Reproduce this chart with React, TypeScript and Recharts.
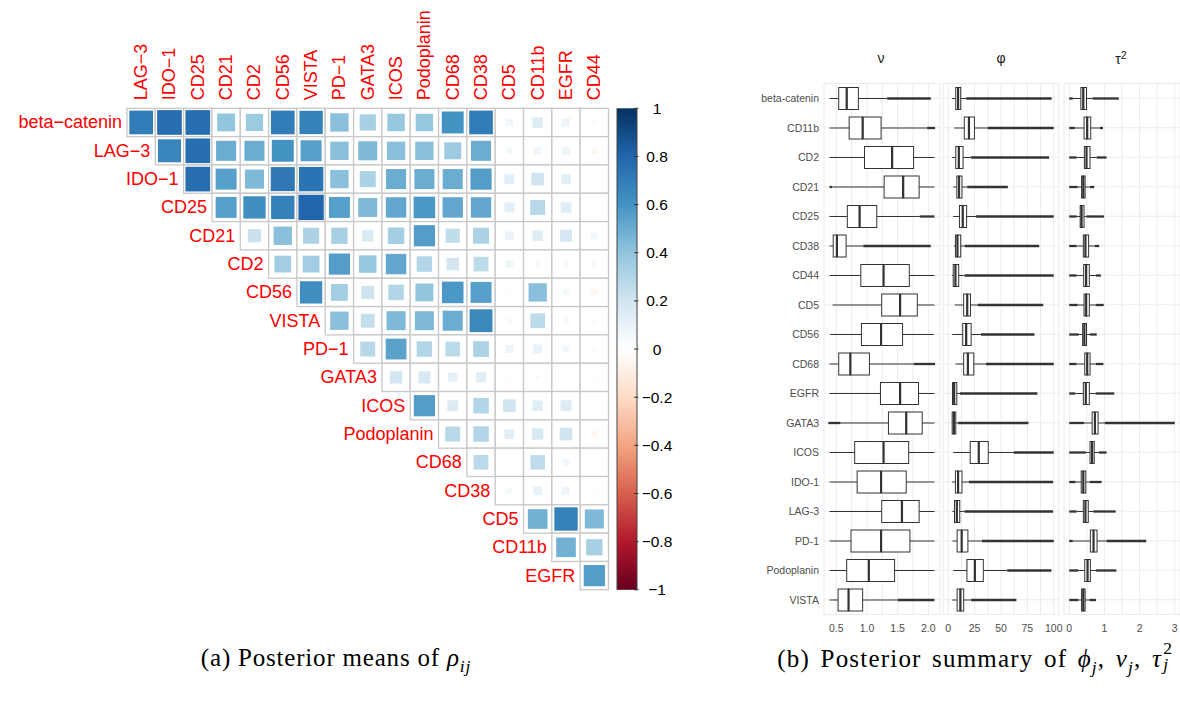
import React from 'react';
import { ScatterChart, Scatter, XAxis, YAxis, BarChart, Bar, ComposedChart, CartesianGrid } from 'recharts';

// ---------------- Panel (a): correlation matrix ----------------
const rowLabels = ['beta−catenin', 'LAG−3', 'IDO−1', 'CD25', 'CD21', 'CD2', 'CD56', 'VISTA', 'PD−1', 'GATA3', 'ICOS', 'Podoplanin', 'CD68', 'CD38', 'CD5', 'CD11b', 'EGFR'];
const colLabels = ['LAG−3', 'IDO−1', 'CD25', 'CD21', 'CD2', 'CD56', 'VISTA', 'PD−1', 'GATA3', 'ICOS', 'Podoplanin', 'CD68', 'CD38', 'CD5', 'CD11b', 'EGFR', 'CD44'];
// row i holds correlations with columns i..16
const corrRows: number[][] = [
  [0.70, 0.76, 0.76, 0.40, 0.37, 0.70, 0.68, 0.42, 0.33, 0.38, 0.38, 0.60, 0.70, 0.07, 0.14, 0.08, -0.03],
  [0.66, 0.76, 0.50, 0.50, 0.60, 0.55, 0.42, 0.45, 0.42, 0.42, 0.36, 0.50, 0.05, 0.07, 0.08, -0.05],
  [0.76, 0.55, 0.45, 0.72, 0.74, 0.42, 0.32, 0.50, 0.50, 0.50, 0.56, 0.12, 0.20, 0.12, 0.01],
  [0.55, 0.62, 0.68, 0.80, 0.55, 0.45, 0.52, 0.58, 0.52, 0.52, 0.12, 0.28, 0.14, 0.02],
  [0.22, 0.42, 0.32, 0.33, 0.16, 0.34, 0.56, 0.25, 0.32, 0.09, 0.14, 0.18, 0.06],
  [0.35, 0.35, 0.56, 0.38, 0.52, 0.30, 0.19, 0.27, 0.07, 0.05, 0.05, 0.04],
  [0.62, 0.35, 0.21, 0.30, 0.40, 0.58, 0.55, -0.02, 0.42, 0.05, -0.05],
  [0.42, 0.24, 0.45, 0.45, 0.50, 0.65, 0.03, 0.27, 0.05, -0.03],
  [0.28, 0.54, 0.30, 0.27, 0.31, 0.08, 0.10, 0.06, 0.03],
  [0.19, 0.18, 0.11, 0.13, -0.02, -0.04, 0.01, 0.02],
  [0.56, 0.15, 0.30, 0.20, 0.14, 0.15, 0.01],
  [0.28, 0.30, 0.12, 0.16, 0.20, -0.05],
  [0.27, -0.01, 0.26, 0.06, 0.01],
  [0.05, 0.10, 0.08, 0.02],
  [0.48, 0.68, 0.45],
  [0.48, 0.33],
  [0.56],
];
const colorbarTicks = [-1, -0.8, -0.6, -0.4, -0.2, 0, 0.2, 0.4, 0.6, 0.8, 1];
const RDBU = ['#67001F', '#B2182B', '#D6604D', '#F4A582', '#FDDBC7', '#FFFFFF', '#D1E5F0', '#92C5DE', '#4393C3', '#2166AC', '#053061'];

// ---------------- Panel (b): posterior boxplots ----------------
const boxCategories = ['beta-catenin', 'CD11b', 'CD2', 'CD21', 'CD25', 'CD38', 'CD44', 'CD5', 'CD56', 'CD68', 'EGFR', 'GATA3', 'ICOS', 'IDO-1', 'LAG-3', 'PD-1', 'Podoplanin', 'VISTA'];
// each row: [lowest outlier, lower whisker, Q1, median, Q3, upper whisker, highest outlier]
const nuStats: number[][] = [
  [0.39, 0.39, 0.54, 0.67, 0.86, 1.33, 2.04],
  [0.39, 0.39, 0.71, 0.93, 1.23, 1.98, 2.11],
  [0.39, 0.39, 0.96, 1.41, 1.76, 2.10, 2.10],
  [0.39, 0.43, 1.28, 1.59, 1.85, 2.10, 2.10],
  [0.39, 0.39, 0.68, 0.88, 1.16, 1.86, 2.10],
  [0.39, 0.39, 0.45, 0.51, 0.66, 0.94, 2.04],
  [0.39, 0.39, 0.90, 1.27, 1.69, 2.10, 2.10],
  [0.44, 0.44, 1.24, 1.54, 1.82, 2.10, 2.10],
  [0.40, 0.40, 0.91, 1.23, 1.58, 2.09, 2.09],
  [0.39, 0.39, 0.54, 0.73, 1.04, 1.76, 2.11],
  [0.39, 0.39, 1.22, 1.54, 1.84, 2.10, 2.10],
  [0.37, 0.57, 1.35, 1.64, 1.90, 2.10, 2.10],
  [0.39, 0.39, 0.80, 1.27, 1.68, 2.10, 2.10],
  [0.39, 0.39, 0.84, 1.23, 1.64, 2.10, 2.10],
  [0.39, 0.39, 1.24, 1.57, 1.85, 2.10, 2.10],
  [0.39, 0.39, 0.74, 1.23, 1.70, 2.10, 2.10],
  [0.39, 0.39, 0.67, 1.03, 1.45, 2.10, 2.10],
  [0.39, 0.39, 0.53, 0.70, 0.93, 1.50, 2.10],
];
const phiStats: number[][] = [
  [3.7, 3.7, 7.1, 9.3, 11.8, 17.0, 98.0],
  [5.6, 5.6, 15.2, 19.6, 24.8, 37.3, 100],
  [3.7, 3.7, 7.1, 10.0, 14.0, 21.7, 95.6],
  [4.7, 4.7, 8.1, 10.2, 13.0, 18.0, 56.5],
  [4.7, 4.7, 10.6, 13.7, 17.4, 26.4, 100],
  [5.5, 5.5, 6.8, 8.7, 11.8, 15.5, 86.3],
  [3.7, 3.7, 4.7, 6.8, 9.9, 15.5, 100],
  [6.2, 6.2, 14.6, 18.0, 21.1, 28.0, 90.0],
  [3.7, 3.7, 13.7, 17.0, 21.7, 31.0, 81.7],
  [6.8, 6.8, 14.6, 18.6, 24.2, 35.7, 100],
  [3.5, 3.5, 4.0, 5.6, 8.1, 10.9, 84.5],
  [3.4, 3.4, 3.7, 5.3, 7.1, 9.3, 76.0],
  [4.7, 4.7, 20.8, 28.9, 37.9, 62.0, 100],
  [3.7, 3.7, 6.8, 9.3, 13.0, 19.6, 99.4],
  [4.0, 4.0, 5.9, 8.1, 10.9, 15.5, 99.4],
  [4.0, 4.0, 8.4, 12.7, 18.6, 32.0, 100],
  [4.7, 4.7, 17.7, 25.2, 33.2, 55.9, 97.8],
  [3.7, 3.7, 8.4, 11.5, 14.6, 21.7, 64.6],
];
const tau2Stats: number[][] = [
  [0, 0.10, 0.33, 0.40, 0.49, 0.66, 1.41],
  [0, 0.16, 0.42, 0.51, 0.61, 0.87, 0.96],
  [0, 0.21, 0.43, 0.49, 0.59, 0.78, 1.06],
  [0, 0.24, 0.35, 0.40, 0.45, 0.59, 0.71],
  [0, 0.21, 0.31, 0.35, 0.42, 0.49, 0.99],
  [0, 0.21, 0.40, 0.46, 0.55, 0.73, 0.85],
  [0, 0.21, 0.41, 0.48, 0.57, 0.76, 0.90],
  [0, 0.24, 0.42, 0.48, 0.57, 0.75, 0.98],
  [0, 0.27, 0.38, 0.43, 0.49, 0.59, 0.78],
  [0, 0.21, 0.44, 0.51, 0.59, 0.76, 0.97],
  [0, 0.17, 0.40, 0.47, 0.57, 0.75, 1.28],
  [0, 0.42, 0.65, 0.73, 0.82, 1.01, 3.00],
  [0, 0.47, 0.59, 0.65, 0.71, 0.84, 1.06],
  [0, 0.18, 0.34, 0.40, 0.47, 0.59, 0.92],
  [0, 0.21, 0.40, 0.46, 0.54, 0.68, 1.32],
  [0, 0.10, 0.60, 0.69, 0.79, 1.06, 2.19],
  [0, 0.26, 0.44, 0.52, 0.60, 0.76, 1.34],
  [0, 0.26, 0.35, 0.40, 0.45, 0.57, 0.76],
];
const nuTicks = [0.5, 0.75, 1.0, 1.25, 1.5, 1.75, 2.0];
const nuMajor = [0.5, 1.0, 1.5, 2.0];
const phiTicks = [0, 12.5, 25, 37.5, 50, 62.5, 75, 87.5, 100];
const phiMajor = [0, 25, 50, 75, 100];
const tau2Ticks = [0, 0.5, 1, 1.5, 2, 2.5, 3];
const tau2Major = [0, 1, 2, 3];

// ---------------- helpers ----------------
const SANS = '"Liberation Sans", Arial, Helvetica, sans-serif';
const SERIF = '"Liberation Serif", "Times New Roman", serif';

function hexToRgb(h: string) {
  return [parseInt(h.slice(1, 3), 16), parseInt(h.slice(3, 5), 16), parseInt(h.slice(5, 7), 16)];
}
function corrColor(r: number) {
  const t = ((r + 1) / 2) * 10;
  let i = Math.floor(t);
  if (i > 9) i = 9;
  if (i < 0) i = 0;
  const f = t - i;
  const a = hexToRgb(RDBU[i]);
  const b = hexToRgb(RDBU[i + 1]);
  const c = a.map((v, k) => Math.round(v + (b[k] - v) * f));
  return `rgb(${c[0]},${c[1]},${c[2]})`;
}
const minusFmt = (v: number) => {
  const s = String(Math.round(v * 10) / 10);
  return s.replace('-', '−');
};

// layout of the correlation grid
const CORR_W = 640;
const CORR_H = 707;
const GRID_LEFT = 127;
const GRID_TOP = 108.3;
const GRID_SPAN = 481.5;
const CELL = GRID_SPAN / 17;

const cellData: { x: number; y: number; r: number }[] = [];
corrRows.forEach((row, i) => row.forEach((r, k) => cellData.push({ x: i + k, y: i, r })));
const rowLabelData = rowLabels.map((label, i) => ({ x: i, y: i, label }));
const colLabelData = colLabels.map((label, j) => ({ x: j, y: -0.5, label }));

const CellShape = (p: any) => {
  const { cx, cy, payload } = p;
  const r = payload.r;
  const s = Math.min(CELL - 2.5, CELL * Math.sqrt(Math.abs(r)));
  return (
    <g>
      <rect x={cx - CELL / 2} y={cy - CELL / 2} width={CELL} height={CELL} fill="#ffffff" stroke="#c8c8c8" strokeWidth={1.3} />
      <rect x={cx - s / 2} y={cy - s / 2} width={s} height={s} fill={corrColor(r)} />
    </g>
  );
};
const RowLabelShape = (p: any) => (
  <text x={p.cx - CELL / 2 - 5} y={p.cy} textAnchor="end" dominantBaseline="central" fill="#FF0000" fontSize={18} fontFamily={SANS}>
    {p.payload.label}
  </text>
);
const ColLabelShape = (p: any) => (
  <text
    x={p.cx}
    y={p.cy - 8}
    transform={`rotate(-90 ${p.cx} ${p.cy - 8})`}
    textAnchor="start"
    dominantBaseline="central"
    fill="#FF0000"
    fontSize={18}
    fontFamily={SANS}
  >
    {p.payload.label}
  </text>
);

const CorrPanel = () => (
  <div style={{ position: 'absolute', left: 0, top: 0 }}>
    <ScatterChart
      width={CORR_W}
      height={CORR_H}
      margin={{ top: GRID_TOP, left: GRID_LEFT, right: CORR_W - GRID_LEFT - GRID_SPAN, bottom: CORR_H - GRID_TOP - GRID_SPAN }}
    >
      <XAxis type="number" dataKey="x" domain={[-0.5, 16.5]} hide height={0} />
      <YAxis type="number" dataKey="y" domain={[-0.5, 16.5]} reversed hide width={0} />
      <Scatter data={cellData} shape={CellShape} isAnimationActive={false} />
      <Scatter data={rowLabelData} shape={RowLabelShape} isAnimationActive={false} />
      <Scatter data={colLabelData} shape={ColLabelShape} isAnimationActive={false} />
    </ScatterChart>
  </div>
);

// colour legend
const CB_LEFT = 580;
const CB_W = 120;
const colorbarData = [{ name: 'legend', range: [-1, 1] }];
const ColorbarShape = (p: any) => {
  const { x, y, width, height } = p;
  return (
    <g>
      <defs>
        <linearGradient id="rdbuGrad" x1="0" y1="1" x2="0" y2="0">
          {RDBU.map((c, k) => (
            <stop key={k} offset={`${k * 10}%`} stopColor={c} />
          ))}
        </linearGradient>
      </defs>
      <rect x={x} y={y} width={width} height={height} fill="url(#rdbuGrad)" />
      <line x1={x} x2={x} y1={y} y2={y + height} stroke="#444" strokeWidth={1} />
      <line x1={x + width} x2={x + width} y1={y} y2={y + height} stroke="#444" strokeWidth={1} />
    </g>
  );
};
const ColorbarTick = (p: any) => {
  const { x, y, payload } = p;
  return (
    <g>
      <line x1={x - 3} x2={x + 1.5} y1={y} y2={y} stroke="#333" strokeWidth={1} />
      <text x={x + 20} y={y} textAnchor="middle" dominantBaseline="central" fontSize={15.5} fontFamily={SANS} fill="#000">
        {minusFmt(payload.value)}
      </text>
    </g>
  );
};
const ColorbarPanel = () => (
  <div style={{ position: 'absolute', left: CB_LEFT, top: 0 }}>
    <BarChart
      width={CB_W}
      height={CORR_H}
      data={colorbarData}
      barCategoryGap={0}
      margin={{ top: GRID_TOP, bottom: CORR_H - GRID_TOP - GRID_SPAN, left: 617 - CB_LEFT, right: 0 }}
    >
      <XAxis type="category" dataKey="name" hide height={0} />
      <YAxis
        type="number"
        orientation="right"
        domain={[-1, 1]}
        ticks={colorbarTicks}
        width={CB_W - (617 - CB_LEFT) - 20}
        tickSize={0}
        tickMargin={0}
        axisLine={false}
        tickLine={false}
        tick={ColorbarTick}
        interval={0}
      />
      <Bar dataKey="range" shape={ColorbarShape} isAnimationActive={false} />
    </BarChart>
  </div>
);

// ---------------- boxplot facets ----------------
const INK = '#333333';
const EmptyShape = () => <g />;
const OutlierShape = (p: any) => {
  const { x, y, width, height } = p;
  if (!(width > 0.3)) return <g />;
  const cy = y + height / 2;
  return <line x1={x} x2={x + width} y1={cy} y2={cy} stroke={INK} strokeWidth={2.3} />;
};
const WhiskerShape = (p: any) => {
  const { x, y, width, height } = p;
  if (!(width > 0.1)) return <g />;
  const cy = y + height / 2;
  return <line x1={x} x2={x + width} y1={cy} y2={cy} stroke={INK} strokeWidth={1} />;
};
const BoxLowShape = (p: any) => {
  const { x, y, width, height } = p;
  return <rect x={x} y={y} width={Math.max(width, 0)} height={height} fill="#ffffff" stroke={INK} strokeWidth={1} />;
};
const BoxHighShape = (p: any) => {
  const { x, y, width, height } = p;
  return (
    <g>
      <rect x={x} y={y} width={Math.max(width, 0)} height={height} fill="#ffffff" stroke={INK} strokeWidth={1} />
      <line x1={x} x2={x} y1={y} y2={y + height} stroke={INK} strokeWidth={2.2} />
    </g>
  );
};

const PLOT_TOP = 83.5;
const PLOT_BOTTOM = 614.5;
const XAXIS_H = 30;
const PAD = 12;

type FacetProps = {
  stats: number[][];
  domain: [number, number];
  ticks: number[];
  majors: number[];
  fmt: (v: number) => string;
  plotLeft: number;
  plotWidth: number;
  showY: boolean;
};

const Facet = ({ stats, domain, ticks, majors, fmt, plotLeft, plotWidth, showY }: FacetProps) => {
  const data = boxCategories.map((name, k) => {
    const s = stats[k];
    return {
      name,
      base: s[0],
      lowOut: s[1] - s[0],
      lowWhisk: s[2] - s[1],
      boxLo: s[3] - s[2],
      boxHi: s[4] - s[3],
      highWhisk: s[5] - s[4],
      highOut: s[6] - s[5],
    };
  });
  const XTick = (p: any) => {
    const v = p.payload.value;
    if (!majors.some((m) => Math.abs(m - v) < 1e-9)) return <g />;
    return (
      <text x={p.x} y={p.y + 13.5} textAnchor="middle" dominantBaseline="central" fontSize={10.5} fontFamily={SANS} fill="#4D4D4D">
        {fmt(v)}
      </text>
    );
  };
  const YTick = (p: any) => (
    <text x={p.x} y={p.y} textAnchor="end" dominantBaseline="central" fontSize={10.5} fontFamily={SANS} fill="#4D4D4D">
      {p.payload.value}
    </text>
  );
  const yW = showY ? 100 : 0;
  const leftSpace = showY ? 124 : PAD;
  const mLeft = leftSpace - yW;
  const chartLeft = plotLeft - leftSpace;
  const chartWidth = leftSpace + plotWidth + PAD;
  return (
    <div style={{ position: 'absolute', left: chartLeft, top: 0 }}>
      <ComposedChart
        width={chartWidth}
        height={707}
        data={data}
        layout="vertical"
        margin={{ top: PLOT_TOP, bottom: 707 - PLOT_BOTTOM - XAXIS_H, left: mLeft, right: PAD }}
      >
        <CartesianGrid stroke="#EBEBEB" strokeWidth={1} />
        <XAxis
          type="number"
          domain={domain}
          ticks={ticks}
          allowDataOverflow
          interval={0}
          tickSize={0}
          tickMargin={0}
          axisLine={false}
          tickLine={false}
          tick={XTick}
          height={XAXIS_H}
        />
        <YAxis
          type="category"
          dataKey="name"
          hide={!showY}
          width={yW}
          interval={0}
          tickSize={0}
          tickMargin={5}
          axisLine={false}
          tickLine={false}
          tick={YTick}
        />
        <Bar dataKey="base" stackId="s" barSize={22} shape={EmptyShape} isAnimationActive={false} />
        <Bar dataKey="lowOut" stackId="s" barSize={22} shape={OutlierShape} isAnimationActive={false} />
        <Bar dataKey="lowWhisk" stackId="s" barSize={22} shape={WhiskerShape} isAnimationActive={false} />
        <Bar dataKey="boxLo" stackId="s" barSize={22} shape={BoxLowShape} isAnimationActive={false} />
        <Bar dataKey="boxHi" stackId="s" barSize={22} shape={BoxHighShape} isAnimationActive={false} />
        <Bar dataKey="highWhisk" stackId="s" barSize={22} shape={WhiskerShape} isAnimationActive={false} />
        <Bar dataKey="highOut" stackId="s" barSize={22} shape={OutlierShape} isAnimationActive={false} />
      </ComposedChart>
    </div>
  );
};

const stripStyle = (x: number): React.CSSProperties => ({
  position: 'absolute',
  left: x,
  top: 58,
  transform: 'translate(-50%, -50%)',
  fontFamily: SANS,
  fontSize: 14,
  color: '#1A1A1A',
  whiteSpace: 'nowrap',
});

const captionStyle = (cx: number, ls: number, ws: number): React.CSSProperties => ({
  position: 'absolute',
  left: cx,
  top: 662,
  transform: 'translate(-50%, -50%)',
  fontFamily: SERIF,
  fontSize: 25,
  letterSpacing: ls,
  wordSpacing: ws,
  color: '#000',
  whiteSpace: 'nowrap',
  lineHeight: '30px',
});

const subStyle: React.CSSProperties = { fontSize: '0.7em', fontStyle: 'italic' };

// τ with stacked super/subscript (τ_j^2)
const TauSq = () => (
  <span>
    <i>τ</i>
    <span style={{ position: 'relative', display: 'inline-block', width: '0.5em', height: '1em' }}>
      <span style={{ position: 'absolute', left: 1, top: -2, fontSize: '0.7em', lineHeight: 1, fontStyle: 'normal' }}>2</span>
      <span style={{ position: 'absolute', left: 1, top: 14, fontSize: '0.7em', lineHeight: 1, fontStyle: 'italic' }}>j</span>
    </span>
  </span>
);

export default function App() {
  return (
    <div style={{ position: 'absolute', left: 0, top: 0, width: 1180, height: 707, overflow: 'hidden', background: '#ffffff' }}>
      <CorrPanel />
      <ColorbarPanel />
      <Facet stats={nuStats} domain={[0.3, 2.19]} ticks={nuTicks} majors={nuMajor} fmt={(v) => v.toFixed(1)} plotLeft={824} plotWidth={116} showY />
      <Facet stats={phiStats} domain={[-5, 105]} ticks={phiTicks} majors={phiMajor} fmt={(v) => String(v)} plotLeft={943} plotWidth={116} showY={false} />
      <Facet stats={tau2Stats} domain={[-0.15, 3.15]} ticks={tau2Ticks} majors={tau2Major} fmt={(v) => String(v)} plotLeft={1064} plotWidth={116} showY={false} />
      <div style={stripStyle(881)}>ν</div>
      <div style={stripStyle(1001)}>φ</div>
      <div style={stripStyle(1121)}>
        τ<sup style={{ fontSize: '0.75em' }}>2</sup>
      </div>
      <div style={captionStyle(336, 0.8, 0)}>
        (a) Posterior means of <i>ρ</i>
        <sub style={subStyle}>ij</sub>
      </div>
      <div style={captionStyle(976, 1.2, 3)}>
        (b) Posterior summary of <i>ϕ</i>
        <sub style={subStyle}>j</sub>, <i>ν</i>
        <sub style={subStyle}>j</sub>, <TauSq />
      </div>
    </div>
  );
}
